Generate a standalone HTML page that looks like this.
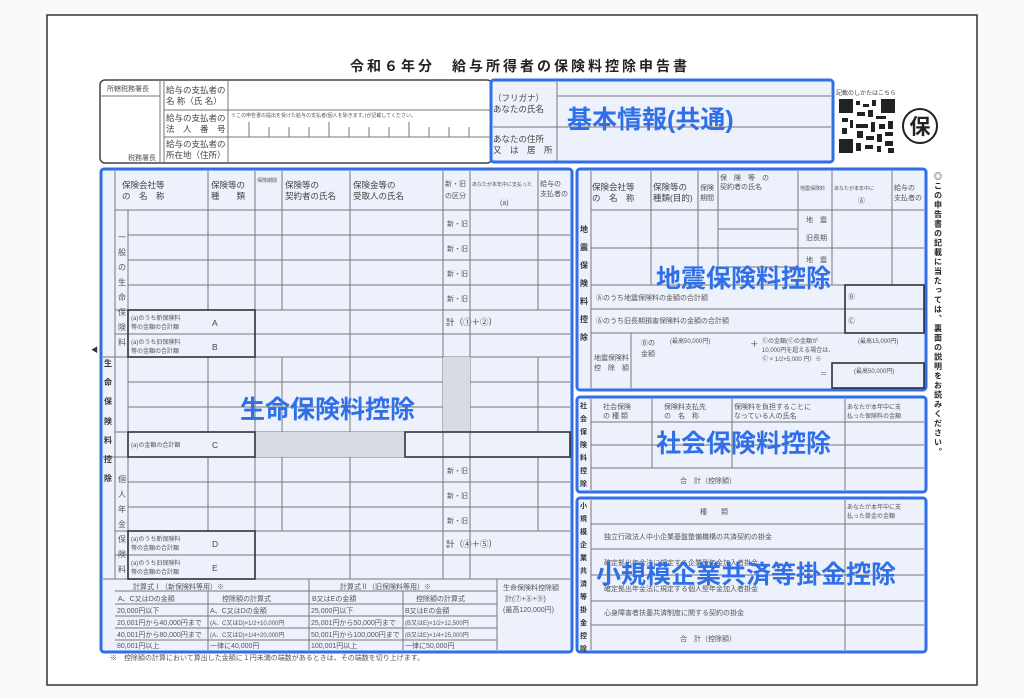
<!DOCTYPE html>
<html><head><meta charset="utf-8"><style>
html,body{margin:0;padding:0;background:#fff;}
svg{display:block;font-family:"Liberation Sans","Noto Sans CJK JP",sans-serif;}
.g line{stroke:#777;stroke-width:1}
.k{stroke:#333;stroke-width:1.6;fill:none}
.bb{fill:#edf1fb;stroke:#2f6fe8;stroke-width:3}
.s{font-size:7px;fill:#555}
.m{font-size:8.5px;fill:#444}
.big{font-size:25px;fill:#2f6fe8;font-weight:bold}
</style></head><body>
<svg width="1024" height="698" viewBox="0 0 1024 698">
<rect x="0" y="0" width="1024" height="698" fill="#fafafa"/>
<rect x="47" y="15" width="930" height="670" fill="#fff" stroke="#333" stroke-width="1.5"/>
<text x="520" y="71" text-anchor="middle" font-size="14" font-weight="bold" fill="#222" letter-spacing="3">令和６年分　給与所得者の保険料控除申告書</text>

<rect x="100" y="80" width="392" height="83" rx="5" fill="#fff" stroke="#444" stroke-width="1.5"/>
<g class="g"><line x1="160" y1="80" x2="160" y2="163"/><line x1="164" y1="80" x2="164" y2="163"/><line x1="228" y1="80" x2="228" y2="163"/>
<line x1="100" y1="96" x2="160" y2="96"/><line x1="164" y1="110" x2="492" y2="110"/><line x1="164" y1="137" x2="492" y2="137"/></g>
<text x="107" y="91" class="s">所轄税務署長</text><text x="128" y="160" class="s">税務署長</text>
<text x="166" y="93" class="m">給与の支払者の</text><text x="166" y="104" class="m">名 称（氏 名）</text>
<text x="166" y="121" class="m">給与の支払者の</text><text x="166" y="132" class="m">法　人　番　号</text>
<text x="166" y="147" class="m">給与の支払者の</text><text x="166" y="158" class="m">所在地（住所）</text>
<text x="231" y="117" font-size="5" fill="#555">※この申告書の提出を受けた給与の支払者(個人を除きます。)が記載してください。</text>
<g class="g"><line x1="249" y1="122" x2="249" y2="137"/><line x1="269" y1="127" x2="269" y2="137"/><line x1="289" y1="127" x2="289" y2="137"/><line x1="309" y1="127" x2="309" y2="137"/><line x1="329" y1="122" x2="329" y2="137"/><line x1="349" y1="127" x2="349" y2="137"/><line x1="369" y1="127" x2="369" y2="137"/><line x1="389" y1="127" x2="389" y2="137"/><line x1="409" y1="122" x2="409" y2="137"/><line x1="429" y1="127" x2="429" y2="137"/><line x1="449" y1="127" x2="449" y2="137"/><line x1="469" y1="127" x2="469" y2="137"/></g>

<rect x="491" y="80" width="342" height="82" rx="3" class="bb"/>
<g class="g"><line x1="557" y1="82" x2="557" y2="161"/><line x1="557" y1="96" x2="831" y2="96"/><line x1="493" y1="127" x2="557" y2="127"/><line x1="557" y1="127" x2="831" y2="127"/></g>
<text x="493" y="101" class="m">（フリガナ）</text><text x="493" y="112" class="m">あなたの氏名</text>
<text x="493" y="142" class="m">あなたの住所</text><text x="493" y="153" class="m">又　は　居　所</text>
<text x="567" y="128" class="big">基本情報(共通)</text>

<text x="836" y="95" font-size="6" fill="#444">記載のしかたはこちら</text>
<rect x="839" y="99" width="56" height="54" fill="#fff"/>
<g fill="#222">
<rect x="839" y="99" width="14" height="14"/><rect x="881" y="99" width="14" height="14"/><rect x="839" y="139" width="14" height="14"/>
<rect x="856" y="101" width="4" height="4"/><rect x="863" y="104" width="6" height="3"/><rect x="872" y="100" width="4" height="6"/>
<rect x="857" y="112" width="8" height="4"/><rect x="868" y="110" width="5" height="7"/><rect x="876" y="116" width="10" height="3"/>
<rect x="842" y="118" width="6" height="4"/><rect x="850" y="120" width="3" height="8"/><rect x="856" y="124" width="12" height="4"/>
<rect x="871" y="122" width="4" height="10"/><rect x="879" y="124" width="6" height="5"/><rect x="888" y="121" width="5" height="8"/>
<rect x="842" y="128" width="5" height="6"/><rect x="857" y="131" width="6" height="7"/><rect x="866" y="136" width="8" height="4"/>
<rect x="877" y="134" width="5" height="8"/><rect x="885" y="132" width="8" height="4"/><rect x="856" y="143" width="5" height="8"/>
<rect x="865" y="145" width="8" height="4"/><rect x="877" y="146" width="4" height="6"/><rect x="885" y="141" width="8" height="5"/><rect x="888" y="148" width="6" height="5"/>
</g>
<circle cx="920" cy="126" r="17" fill="#fff" stroke="#222" stroke-width="2"/>
<text x="920" y="134" text-anchor="middle" font-size="21" font-weight="bold" fill="#222">保</text>

<rect x="101" y="169" width="471" height="483" rx="3" class="bb"/>
<g class="g">
<line x1="115" y1="171" x2="115" y2="579"/>
<line x1="128" y1="210" x2="128" y2="579"/>
<line x1="208" y1="171" x2="208" y2="310"/><line x1="208" y1="357" x2="208" y2="432"/><line x1="208" y1="457" x2="208" y2="531"/>
<line x1="255" y1="171" x2="255" y2="579"/>
<line x1="282" y1="171" x2="282" y2="310"/><line x1="282" y1="357" x2="282" y2="432"/><line x1="282" y1="457" x2="282" y2="531"/>
<line x1="350" y1="171" x2="350" y2="579"/>
<line x1="443" y1="171" x2="443" y2="579"/>
<line x1="470" y1="171" x2="470" y2="579"/>
<line x1="538" y1="171" x2="538" y2="310"/><line x1="538" y1="357" x2="538" y2="432"/><line x1="538" y1="457" x2="538" y2="531"/>
<line x1="115" y1="210" x2="570" y2="210"/>
<line x1="128" y1="235" x2="570" y2="235"/><line x1="128" y1="260" x2="570" y2="260"/><line x1="128" y1="285" x2="570" y2="285"/>
<line x1="115" y1="310" x2="570" y2="310"/><line x1="115" y1="334" x2="570" y2="334"/><line x1="103" y1="357" x2="570" y2="357"/>
<line x1="128" y1="382" x2="570" y2="382"/><line x1="128" y1="407" x2="570" y2="407"/><line x1="115" y1="432" x2="570" y2="432"/>
<line x1="103" y1="457" x2="570" y2="457"/>
<line x1="128" y1="482" x2="570" y2="482"/><line x1="128" y1="507" x2="570" y2="507"/><line x1="115" y1="531" x2="570" y2="531"/>
<line x1="115" y1="555" x2="570" y2="555"/><line x1="103" y1="579" x2="570" y2="579"/>
<line x1="115" y1="591" x2="497" y2="591"/><line x1="115" y1="604" x2="497" y2="604"/><line x1="115" y1="616" x2="497" y2="616"/><line x1="115" y1="628" x2="497" y2="628"/><line x1="115" y1="640" x2="497" y2="640"/>
<line x1="208" y1="591" x2="208" y2="650"/><line x1="309" y1="579" x2="309" y2="650"/><line x1="403" y1="591" x2="403" y2="650"/><line x1="497" y1="579" x2="497" y2="650"/>
</g>
<rect x="443" y="357" width="27" height="75" fill="#d8dbe2"/>
<rect x="255" y="432" width="150" height="25" fill="#d8dbe2"/>
<g class="k"><rect x="128" y="310" width="127" height="47"/><rect x="128" y="432" width="127" height="25"/><rect x="128" y="531" width="127" height="48"/><rect x="405" y="432" width="165" height="25"/></g>
<text x="122" y="188" class="m">保険会社等</text><text x="122" y="199" class="m">の　名　称</text>
<text x="211" y="188" class="m">保険等の</text><text x="211" y="199" class="m">種　　類</text>
<text x="257" y="182" font-size="5" fill="#555">保険期間</text>
<text x="285" y="188" class="m">保険等の</text><text x="285" y="199" class="m">契約者の氏名</text>
<text x="353" y="188" class="m">保険金等の</text><text x="353" y="199" class="m">受取人の氏名</text>
<text x="445" y="186" class="s">新・旧</text><text x="445" y="198" class="s">の区分</text>
<text x="472" y="186" font-size="5" fill="#555">あなたが本年中に支払った</text><text x="500" y="205" class="s">(a)</text>
<text x="540" y="186" class="s">給与の</text><text x="540" y="196" class="s">支払者の</text>
<text x="447" y="226" class="s">新・旧</text><text x="447" y="251" class="s">新・旧</text><text x="447" y="276" class="s">新・旧</text><text x="447" y="301" class="s">新・旧</text>
<text x="447" y="473" class="s">新・旧</text><text x="447" y="498" class="s">新・旧</text><text x="447" y="523" class="s">新・旧</text>
<text x="131" y="320" font-size="6" fill="#555">(a)のうち新保険料</text><text x="131" y="329" font-size="6" fill="#555">等の金額の合計額</text><text x="212" y="326" class="m">A</text>
<text x="131" y="344" font-size="6" fill="#555">(a)のうち旧保険料</text><text x="131" y="353" font-size="6" fill="#555">等の金額の合計額</text><text x="212" y="350" class="m">B</text>
<text x="131" y="447" font-size="6" fill="#555">(a)の金額の合計額</text><text x="212" y="448" class="m">C</text>
<text x="131" y="541" font-size="6" fill="#555">(a)のうち新保険料</text><text x="131" y="550" font-size="6" fill="#555">等の金額の合計額</text><text x="212" y="547" class="m">D</text>
<text x="131" y="565" font-size="6" fill="#555">(a)のうち旧保険料</text><text x="131" y="574" font-size="6" fill="#555">等の金額の合計額</text><text x="212" y="571" class="m">E</text>
<text x="446" y="325" class="m">計（①＋②）</text><text x="446" y="547" class="m">計（④＋⑤）</text>
<text x="133" y="589" class="s">計算式Ⅰ（新保険料等用）※</text><text x="340" y="589" class="s">計算式Ⅱ（旧保険料等用）※</text>
<text x="118" y="601" class="s">A、C又はDの金額</text><text x="222" y="601" class="s">控除額の計算式</text><text x="312" y="601" class="s">B又はEの金額</text><text x="416" y="601" class="s">控除額の計算式</text>
<text x="117" y="613" class="s">20,000円以下</text><text x="210" y="613" class="s">A、C又はDの金額</text><text x="311" y="613" class="s">25,000円以下</text><text x="405" y="613" class="s">B又はEの金額</text>
<text x="117" y="625" class="s">20,001円から40,000円まで</text><text x="210" y="625" font-size="6" fill="#555">(A、C又はD)×1/2+10,000円</text><text x="311" y="625" class="s">25,001円から50,000円まで</text><text x="405" y="625" font-size="6" fill="#555">(B又はE)×1/2+12,500円</text>
<text x="117" y="637" class="s">40,001円から80,000円まで</text><text x="210" y="637" font-size="6" fill="#555">(A、C又はD)×1/4+20,000円</text><text x="311" y="637" class="s">50,001円から100,000円まで</text><text x="405" y="637" font-size="6" fill="#555">(B又はE)×1/4+25,000円</text>
<text x="117" y="648" class="s">80,001円以上</text><text x="210" y="648" class="s">一律に40,000円</text><text x="311" y="648" class="s">100,001円以上</text><text x="405" y="648" class="s">一律に50,000円</text>
<text x="503" y="590" class="s">生命保険料控除額</text><text x="505" y="601" class="s">計(⑦+⑧+⑨)</text><text x="503" y="612" class="s">(最高120,000円)</text>
<g font-size="8" font-weight="bold" fill="#333"><text x="104" y="366">生</text><text x="104" y="385">命</text><text x="104" y="404">保</text><text x="104" y="424">険</text><text x="104" y="443">料</text><text x="104" y="462">控</text><text x="104" y="481">除</text></g>
<text x="91" y="352" font-size="7" fill="#333">◀</text>
<g font-size="8" fill="#555"><text x="118" y="240">一</text><text x="118" y="255">般</text><text x="118" y="270">の</text><text x="118" y="285">生</text><text x="118" y="300">命</text><text x="118" y="315">保</text><text x="118" y="330">険</text><text x="118" y="345">料</text>
<text x="118" y="482">個</text><text x="118" y="497">人</text><text x="118" y="512">年</text><text x="118" y="527">金</text><text x="118" y="542">保</text><text x="118" y="557">険</text><text x="118" y="572">料</text></g>
<text x="240" y="418" class="big">生命保険料控除</text>

<rect x="577" y="169" width="349" height="221" rx="3" class="bb"/>
<g class="g">
<line x1="591" y1="171" x2="591" y2="388"/>
<line x1="651" y1="171" x2="651" y2="285"/><line x1="698" y1="171" x2="698" y2="285"/><line x1="718" y1="171" x2="718" y2="285"/>
<line x1="798" y1="171" x2="798" y2="285"/><line x1="832" y1="171" x2="832" y2="285"/><line x1="892" y1="171" x2="892" y2="285"/>
<line x1="591" y1="210" x2="924" y2="210"/><line x1="591" y1="248" x2="924" y2="248"/><line x1="718" y1="229" x2="798" y2="229"/><line x1="718" y1="267" x2="798" y2="267"/>
<line x1="591" y1="285" x2="924" y2="285"/><line x1="591" y1="309" x2="924" y2="309"/><line x1="591" y1="333" x2="924" y2="333"/>
<line x1="631" y1="333" x2="631" y2="388"/>
</g>
<g class="k"><rect x="845" y="285" width="79" height="48"/><rect x="832" y="363" width="92" height="25"/></g>
<text x="592" y="190" class="m">保険会社等</text><text x="592" y="201" class="m">の　名　称</text><text x="653" y="190" class="m">保険等の</text><text x="653" y="201" class="m">種類(目的)</text>
<text x="700" y="190" class="s">保険</text><text x="700" y="200" class="s">期間</text>
<text x="720" y="180" class="s">保　険　等　の</text><text x="720" y="189" class="s">契約者の氏名</text>
<text x="800" y="190" font-size="5" fill="#555">地震保険料</text><text x="834" y="190" font-size="5" fill="#555">あなたが本年中に</text><text x="858" y="203" class="s">Ⓐ</text>
<text x="894" y="190" class="s">給与の</text><text x="894" y="200" class="s">支払者の</text>
<text x="806" y="222" class="s">地　震</text><text x="806" y="240" class="s">旧長期</text><text x="806" y="262" class="s">地　震</text>
<text x="596" y="300" class="s">Ⓐのうち地震保険料の金額の合計額</text><text x="596" y="323" class="s">Ⓐのうち旧長期損害保険料の金額の合計額</text>
<text x="848" y="299" class="s">Ⓑ</text><text x="848" y="323" class="s">Ⓒ</text>
<text x="594" y="360" class="s">地震保険料</text><text x="594" y="370" class="s">控　除　額</text>
<text x="641" y="345" class="s">Ⓑの</text><text x="641" y="356" class="s">金額</text><text x="670" y="343" font-size="6" fill="#555">(最高50,000円)</text>
<text x="750" y="347" class="m">＋</text><text x="762" y="343" font-size="6" fill="#555">Ⓒの金額(Ⓒの金額が</text><text x="762" y="352" font-size="6" fill="#555">10,000円を超える場合は、</text><text x="762" y="361" font-size="6" fill="#555">Ⓒ × 1/2+5,000 円）※</text>
<text x="858" y="343" font-size="6" fill="#555">(最高15,000円)</text><text x="854" y="373" font-size="6" fill="#555">(最高50,000円)</text><text x="820" y="376" class="s">＝</text>
<g font-size="8" font-weight="bold" fill="#333"><text x="580" y="232">地</text><text x="580" y="250">震</text><text x="580" y="268">保</text><text x="580" y="286">険</text><text x="580" y="304">料</text><text x="580" y="322">控</text><text x="580" y="340">除</text></g>
<text x="656" y="287" class="big">地震保険料控除</text>

<rect x="577" y="397" width="349" height="95" rx="3" class="bb"/>
<g class="g"><line x1="591" y1="399" x2="591" y2="490"/><line x1="652" y1="399" x2="652" y2="468"/><line x1="732" y1="399" x2="732" y2="468"/><line x1="845" y1="399" x2="845" y2="490"/>
<line x1="591" y1="422" x2="924" y2="422"/><line x1="591" y1="445" x2="924" y2="445"/><line x1="591" y1="468" x2="924" y2="468"/></g>
<text x="603" y="409" class="s">社会保険</text><text x="603" y="418" class="s">の 種 類</text><text x="664" y="409" class="s">保険料支払先</text><text x="664" y="418" class="s">の　名　称</text>
<text x="734" y="409" class="s">保険料を負担することに</text><text x="734" y="418" class="s">なっている人の氏名</text><text x="847" y="409" font-size="6" fill="#555">あなたが本年中に支</text><text x="847" y="418" font-size="6" fill="#555">払った保険料の金額</text>
<text x="680" y="483" class="s">合　計（控除額）</text>
<g font-size="7" font-weight="bold" fill="#333"><text x="580" y="408">社</text><text x="580" y="421">会</text><text x="580" y="434">保</text><text x="580" y="447">険</text><text x="580" y="460">料</text><text x="580" y="473">控</text><text x="580" y="486">除</text></g>
<text x="656" y="452" class="big">社会保険料控除</text>

<rect x="577" y="498" width="349" height="154" rx="3" class="bb"/>
<g class="g"><line x1="591" y1="500" x2="591" y2="650"/><line x1="845" y1="500" x2="845" y2="650"/>
<line x1="591" y1="524" x2="924" y2="524"/><line x1="591" y1="549" x2="924" y2="549"/><line x1="591" y1="575" x2="924" y2="575"/><line x1="591" y1="601" x2="924" y2="601"/><line x1="591" y1="625" x2="924" y2="625"/></g>
<text x="700" y="514" class="s">種　　類</text><text x="847" y="509" font-size="6" fill="#555">あなたが本年中に支</text><text x="847" y="518" font-size="6" fill="#555">払った掛金の金額</text>
<text x="604" y="539" class="s">独立行政法人中小企業基盤整備機構の共済契約の掛金</text>
<text x="604" y="565" class="s">確定拠出年金法に規定する企業型年金加入者掛金</text>
<text x="604" y="591" class="s">確定拠出年金法に規定する個人型年金加入者掛金</text>
<text x="604" y="615" class="s">心身障害者扶養共済制度に関する契約の掛金</text>
<text x="680" y="641" class="s">合　計（控除額）</text>
<g font-size="7" font-weight="bold" fill="#333"><text x="580" y="508">小</text><text x="580" y="521">規</text><text x="580" y="534">模</text><text x="580" y="547">企</text><text x="580" y="560">業</text><text x="580" y="573">共</text><text x="580" y="586">済</text><text x="580" y="599">等</text><text x="580" y="612">掛</text><text x="580" y="625">金</text><text x="580" y="638">控</text><text x="580" y="651">除</text></g>
<text x="596" y="583" class="big">小規模企業共済等掛金控除</text>

<text x="938" y="172" font-size="8" font-weight="bold" fill="#222" style="writing-mode:vertical-rl;letter-spacing:1.5px">◎この申告書の記載に当たっては、裏面の説明をお読みください。</text>
<text x="110" y="660" font-size="7" fill="#555">※　控除額の計算において算出した金額に１円未満の端数があるときは、その端数を切り上げます。</text>
</svg>
</body></html>
